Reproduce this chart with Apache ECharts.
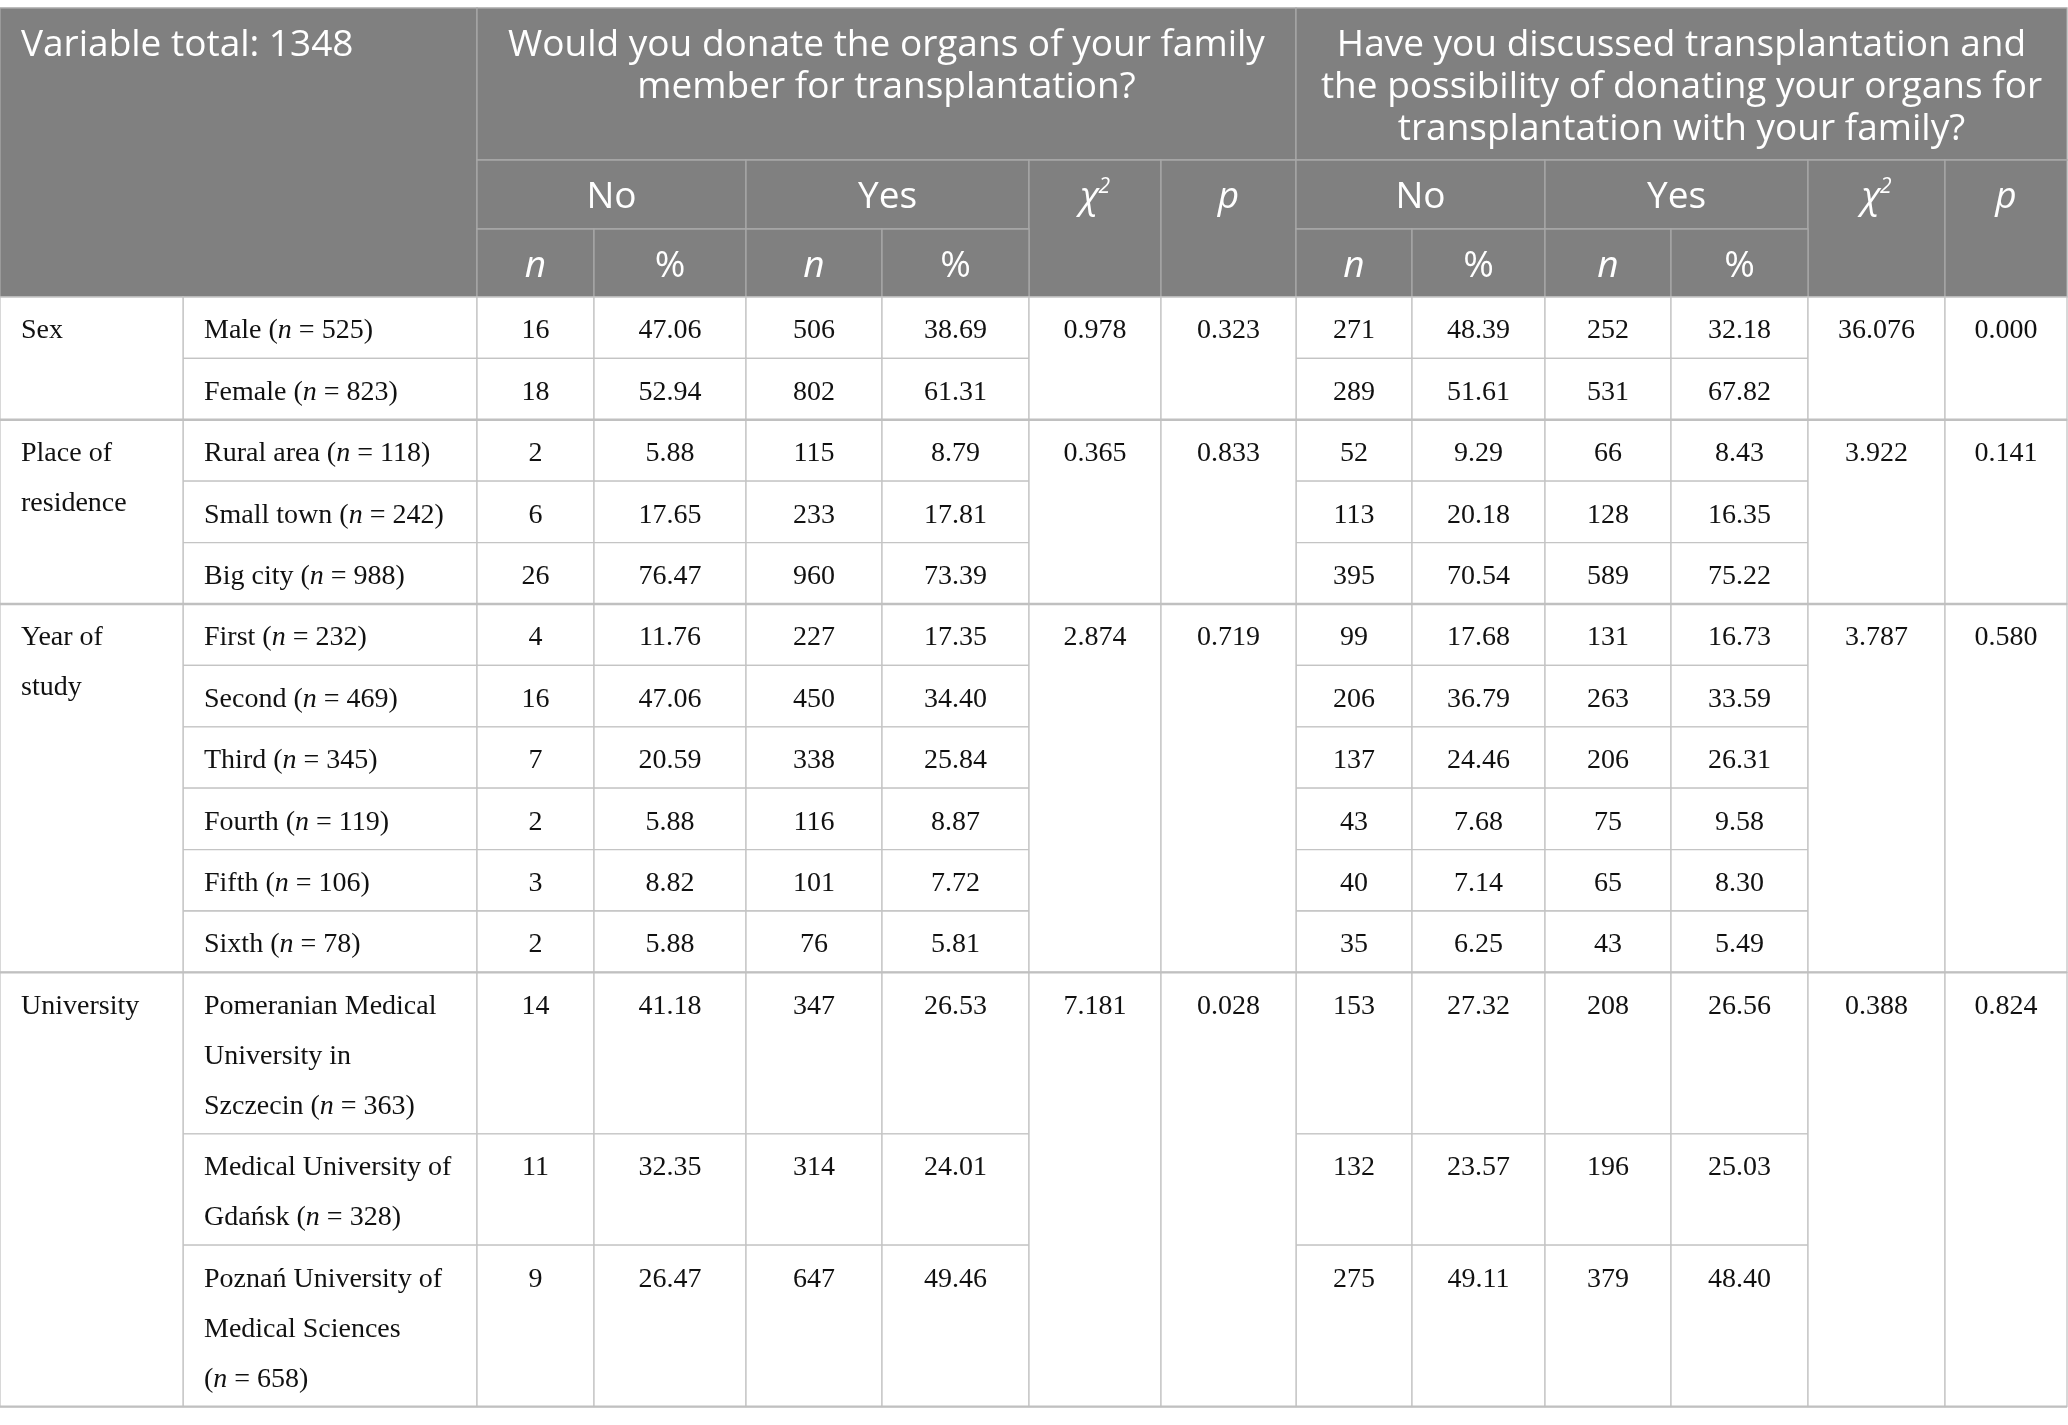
<!DOCTYPE html>
<html lang="en">
<head>
    <meta charset="UTF-8">
    <title>Organ donation survey table</title>
    <script src="https://cdn.jsdelivr.net/npm/echarts@6/dist/echarts.min.js"></script>
    <style>
        html, body {
            margin: 0;
            padding: 0;
            background: #fff;
        }

        #main {
            width: 2068px;
            height: 1425px;
        }
    </style>
</head>
<body>
<div id="main"></div>

<script type="text/javascript">
    // ---- data ----
    const totalLabel = 'Variable total: 1348';
    const questions = [
        'Would you donate the organs of your family\nmember for transplantation?',
        'Have you discussed transplantation and\nthe possibility of donating your organs for\ntransplantation with your family?'
    ];
    const answers = ['No', 'Yes'];

    const groups = ['Sex', 'Place of\nresidence', 'Year of\nstudy', 'University'];
    const groupSizes = [2, 3, 6, 3];
    const rowNames = ['Male', 'Female', 'Rural area', 'Small town', 'Big city',
        'First', 'Second', 'Third', 'Fourth', 'Fifth', 'Sixth',
        'Pomeranian Medical\nUniversity in\nSzczecin', 'Medical University of\nGdańsk',
        'Poznań University of\nMedical Sciences\n'];
    const rowN = [525, 823, 118, 242, 988, 232, 469, 345, 119, 106, 78, 363, 328, 658];

    // would you donate family member's organs
    const donateNoN = [16, 18, 2, 6, 26, 4, 16, 7, 2, 3, 2, 14, 11, 9];
    const donateNoPct = [47.06, 52.94, 5.88, 17.65, 76.47, 11.76, 47.06, 20.59, 5.88, 8.82, 5.88, 41.18, 32.35, 26.47];
    const donateYesN = [506, 802, 115, 233, 960, 227, 450, 338, 116, 101, 76, 347, 314, 647];
    const donateYesPct = [38.69, 61.31, 8.79, 17.81, 73.39, 17.35, 34.40, 25.84, 8.87, 7.72, 5.81, 26.53, 24.01, 49.46];
    const donateChi = [0.978, 0.365, 2.874, 7.181];
    const donateP = [0.323, 0.833, 0.719, 0.028];

    // discussed with family
    const discussNoN = [271, 289, 52, 113, 395, 99, 206, 137, 43, 40, 35, 153, 132, 275];
    const discussNoPct = [48.39, 51.61, 9.29, 20.18, 70.54, 17.68, 36.79, 24.46, 7.68, 7.14, 6.25, 27.32, 23.57, 49.11];
    const discussYesN = [252, 531, 66, 128, 589, 131, 263, 206, 75, 65, 43, 208, 196, 379];
    const discussYesPct = [32.18, 67.82, 8.43, 16.35, 75.22, 16.73, 33.59, 26.31, 9.58, 8.30, 5.49, 26.56, 25.03, 48.40];
    const discussChi = [36.076, 3.922, 3.787, 0.388];
    const discussP = [0.000, 0.141, 0.580, 0.824];

    // ---- layout ----
    const colEdges = [0, 183, 477, 594, 746, 882, 1029, 1161, 1296, 1412, 1545, 1671, 1808, 1945, 2067];
    const headEdges = [8, 160, 229, 297];
    const bodyLineH = 50;
    const bodyPad = 11.4;

    const headFont = 'Open Sans';
    const headSize = 37;
    const bodyFont = 'Liberation Serif';
    const bodySize = 28;

    const blocks = [
        {noN: donateNoN, noPct: donateNoPct, yesN: donateYesN, yesPct: donateYesPct, chi: donateChi, p: donateP},
        {noN: discussNoN, noPct: discussNoPct, yesN: discussYesN, yesPct: discussYesPct, chi: discussChi, p: discussP}
    ];

    let cells = [];

    function addCell(c0, c1, y0, y1, text, head, align) {
        cells.push({x0: colEdges[c0], x1: colEdges[c1], y0: y0, y1: y1, text: text, head: head, align: align || 'center'});
    }

    // header
    addCell(0, 2, headEdges[0], headEdges[3], totalLabel, true, 'left');
    for (let b = 0; b < 2; b++) {
        let base = 2 + b * 6;
        addCell(base, base + 6, headEdges[0], headEdges[1], questions[b], true);
        addCell(base, base + 2, headEdges[1], headEdges[2], answers[0], true);
        addCell(base + 2, base + 4, headEdges[1], headEdges[2], answers[1], true);
        addCell(base + 4, base + 5, headEdges[1], headEdges[3], '{chi|χ}{sup|2}', true);
        addCell(base + 5, base + 6, headEdges[1], headEdges[3], '{hi|p}', true);
        for (let k = 0; k < 4; k++) {
            addCell(base + k, base + k + 1, headEdges[2], headEdges[3], k % 2 === 0 ? '{hi|n}' : '%', true);
        }
    }

    // body
    let groupBottoms = [];
    let y = headEdges[3];
    let row = 0;
    for (let g = 0; g < groups.length; g++) {
        let gTop = y;
        for (let r = 0; r < groupSizes[g]; r++) {
            let name = rowNames[row];
            let label = name + (name.endsWith('\n') ? '' : ' ') + '({i|n} = ' + rowN[row] + ')';
            let h = label.split('\n').length * bodyLineH + bodyPad;
            addCell(1, 2, y, y + h, label, false, 'left');
            for (let b = 0; b < 2; b++) {
                let base = 2 + b * 6;
                let d = blocks[b];
                addCell(base, base + 1, y, y + h, String(d.noN[row]), false);
                addCell(base + 1, base + 2, y, y + h, d.noPct[row].toFixed(2), false);
                addCell(base + 2, base + 3, y, y + h, String(d.yesN[row]), false);
                addCell(base + 3, base + 4, y, y + h, d.yesPct[row].toFixed(2), false);
            }
            y += h;
            row++;
        }
        addCell(0, 1, gTop, y, groups[g], false, 'left');
        for (let b = 0; b < 2; b++) {
            let base = 2 + b * 6;
            addCell(base + 4, base + 5, gTop, y, blocks[b].chi[g].toFixed(3), false);
            addCell(base + 5, base + 6, gTop, y, blocks[b].p[g].toFixed(3), false);
        }
        groupBottoms.push(y);
    }

    const headRich = {
        hi: {fontFamily: headFont, fontSize: headSize, fontStyle: 'italic', fill: '#fff', lineHeight: 42},
        chi: {fontFamily: headFont, fontSize: headSize, fontStyle: 'italic', fill: '#fff', lineHeight: 42},
        sup: {fontFamily: headFont, fontSize: 21, fontStyle: 'italic', fill: '#fff', lineHeight: 22, verticalAlign: 'top'}
    };
    const bodyRich = {
        i: {fontFamily: bodyFont, fontSize: bodySize, fontStyle: 'italic', fill: '#111', lineHeight: bodyLineH}
    };

    function renderCell(params, api) {
        let c = cells[params.dataIndex];
        let p0 = api.coord([api.value(0), api.value(1)]);
        let p1 = api.coord([api.value(2), api.value(3)]);
        let tx = c.align === 'left' ? p0[0] + 21 : (p0[0] + p1[0]) / 2;
        let textStyle = c.head ? {
            text: c.text,
            fill: '#fff',
            fontFamily: headFont,
            fontSize: headSize,
            lineHeight: 42,
            align: c.align,
            verticalAlign: 'top',
            rich: headRich
        } : {
            text: c.text,
            fill: '#111',
            fontFamily: bodyFont,
            fontSize: bodySize,
            lineHeight: bodyLineH,
            align: c.align,
            verticalAlign: 'top',
            rich: bodyRich
        };
        return {
            type: 'group',
            children: [{
                type: 'rect',
                shape: {x: p0[0], y: p0[1], width: p1[0] - p0[0], height: p1[1] - p0[1]},
                style: {
                    fill: c.head ? '#808080' : '#fff',
                    stroke: c.head ? '#a8a8a8' : '#c4c4c4',
                    lineWidth: 1.3
                }
            }, {
                type: 'text',
                x: tx,
                y: p0[1] + (c.head ? 16.5 : 9),
                style: textStyle
            }]
        };
    }

    function renderGroupLine(params, api) {
        let a = api.coord([colEdges[0], api.value(0)]);
        let b = api.coord([colEdges[colEdges.length - 1], api.value(0)]);
        return {
            type: 'line',
            shape: {x1: a[0], y1: a[1], x2: b[0], y2: b[1]},
            style: {stroke: '#c0c0c0', lineWidth: 2.4}
        };
    }

    let chart = echarts.init(document.getElementById('main'));
    let option = {
        animation: false,
        grid: {left: 0, right: 0, top: 0, bottom: 0},
        xAxis: {type: 'value', min: 0, max: 2068, show: false},
        yAxis: {type: 'value', min: 0, max: 1425, inverse: true, show: false},
        series: [{
            type: 'custom',
            coordinateSystem: 'cartesian2d',
            silent: true,
            clip: false,
            data: cells.map(function (c) {
                return [c.x0, c.y0, c.x1, c.y1];
            }),
            encode: {x: [0, 2], y: [1, 3]},
            renderItem: renderCell
        }, {
            type: 'custom',
            coordinateSystem: 'cartesian2d',
            silent: true,
            clip: false,
            data: groupBottoms.map(function (v) {
                return [v];
            }),
            encode: {y: 0},
            renderItem: renderGroupLine
        }]
    };
    chart.setOption(option);
</script>
</body>
</html>
